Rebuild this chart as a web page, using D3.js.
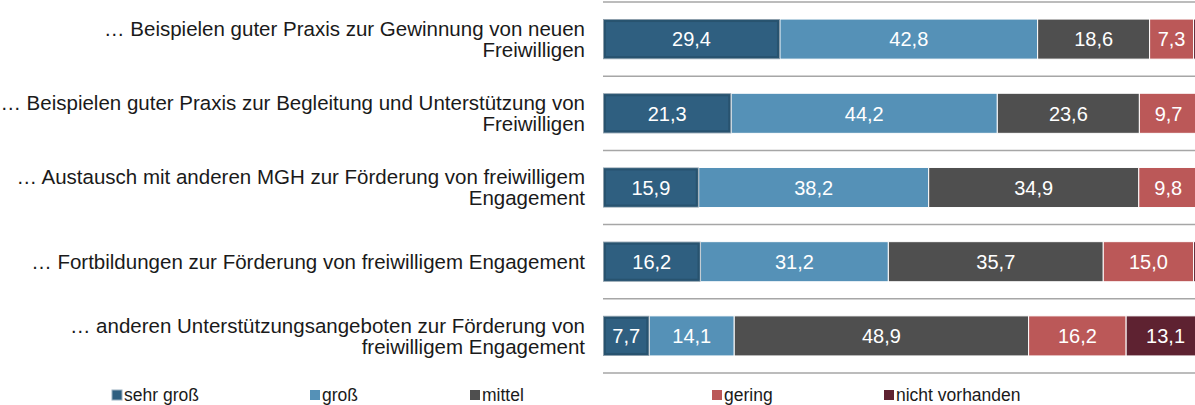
<!DOCTYPE html>
<html>
<head>
<meta charset="utf-8">
<script src="https://cdn.jsdelivr.net/npm/d3@7"></script>
<style>
  body { margin: 0; background: #fff; }
  svg { display: block; font-family: "Liberation Sans", Arial, sans-serif; }
</style>
</head>
<body>
<div id="chart"></div>
<script>
// categories (each label split into lines)
var categories = [
  ["… Beispielen guter Praxis zur Gewinnung von neuen", "Freiwilligen"],
  ["… Beispielen guter Praxis zur Begleitung und Unterstützung von", "Freiwilligen"],
  ["… Austausch mit anderen MGH zur Förderung von freiwilligem", "Engagement"],
  ["… Fortbildungen zur Förderung von freiwilligem Engagement"],
  ["… anderen Unterstützungsangeboten zur Förderung von", "freiwilligem Engagement"]
];
var seriesNames = ["sehr groß", "groß", "mittel", "gering", "nicht vorhanden"];
var sehrGross = [29.4, 21.3, 15.9, 16.2, 7.7];
var gross = [42.8, 44.2, 38.2, 31.2, 14.1];
var mittel = [18.6, 23.6, 34.9, 35.7, 48.9];
var gering = [7.3, 9.7, 9.8, 15.0, 16.2];
var nichtVorhanden = [1.9, 1.2, 1.2, 1.9, 13.1];

var colors = ["#2f5f80", "#5591b7", "#4f4f4f", "#bb5858", "#5e2231"];

var width = 1195, height = 405;
var svg = d3.select("#chart").append("svg")
    .attr("width", width)
    .attr("height", height);

var x = d3.scaleLinear().domain([0, 100]).range([603, 1205]);
var y = d3.scaleBand()
    .domain(d3.range(categories.length))
    .range([2, 373])
    .paddingInner(0.46)
    .paddingOuter(0.23);

var step = y.step();

// table for the stack
var table = categories.map(function(c, i) {
  return {
    i: i,
    "sehr groß": sehrGross[i],
    "groß": gross[i],
    "mittel": mittel[i],
    "gering": gering[i],
    "nicht vorhanden": nichtVorhanden[i]
  };
});
var stacked = d3.stack().keys(seriesNames)(table);

// gridlines between rows
var gridPos = d3.range(categories.length + 1).map(function(k) { return 2 + k * step; });
svg.append("g").selectAll("line")
  .data(gridPos)
  .enter().append("line")
    .attr("x1", 603).attr("x2", width)
    .attr("y1", function(d) { return d; })
    .attr("y2", function(d) { return d; })
    .attr("stroke", "#a6a6a6")
    .attr("stroke-width", 1.5);

var layers = svg.append("g").selectAll("g")
  .data(stacked)
  .enter().append("g")
    .attr("fill", function(d, i) { return colors[i]; });

layers.selectAll("rect")
  .data(function(d) { return d; })
  .enter().append("rect")
    .attr("x", function(d) { return x(d[0]); })
    .attr("y", function(d) { return y(d.data.i); })
    .attr("width", function(d) { return x(d[1]) - x(d[0]); })
    .attr("height", y.bandwidth())
    .attr("stroke", "#ffffff")
    .attr("stroke-width", 1);

// bevel look on the first series: light rim, darker inner edge
svg.append("g").selectAll("rect")
  .data(stacked[0])
  .enter().append("rect")
    .attr("x", function(d) { return x(d[0]) + 0.5; })
    .attr("y", function(d) { return y(d.data.i) + 0.5; })
    .attr("width", function(d) { return x(d[1]) - x(d[0]) - 1; })
    .attr("height", y.bandwidth() - 1)
    .attr("fill", "none")
    .attr("stroke", "#8c9eab")
    .attr("stroke-width", 1);
svg.append("g").selectAll("rect")
  .data(stacked[0])
  .enter().append("rect")
    .attr("x", function(d) { return x(d[0]) + 2; })
    .attr("y", function(d) { return y(d.data.i) + 2; })
    .attr("width", function(d) { return x(d[1]) - x(d[0]) - 4; })
    .attr("height", y.bandwidth() - 4)
    .attr("fill", "none")
    .attr("stroke", "#28536f")
    .attr("stroke-width", 2);

// value labels (skip the thin slivers)
layers.selectAll("text")
  .data(function(d) { return d; })
  .enter().append("text")
    .filter(function(d) { return d[1] - d[0] >= 5; })
    .attr("x", function(d) { return (x(d[0]) + x(d[1])) / 2; })
    .attr("y", function(d) { return y(d.data.i) + y.bandwidth() / 2; })
    .attr("dy", "0.36em")
    .attr("text-anchor", "middle")
    .attr("fill", "#ffffff")
    .style("font-size", "20px")
    .text(function(d) { return d3.format(".1f")(d[1] - d[0]).replace(".", ","); });

// category labels
var labels = svg.append("g").selectAll("text")
  .data(categories)
  .enter().append("text")
    .attr("text-anchor", "end")
    .attr("fill", "#1a1a1a")
    .style("font-size", "20.5px")
    .attr("y", function(d, i) {
      var c = y(i) + y.bandwidth() / 2;
      return c - (d.length - 1) * 10.5;
    });

labels.selectAll("tspan")
  .data(function(d) { return d; })
  .enter().append("tspan")
    .attr("x", 585)
    .attr("dy", function(d, j) { return j === 0 ? "0.36em" : "21px"; })
    .text(function(d) { return d; });

// legend
var legendX = [112, 310, 470, 712, 884];
var legend = svg.append("g").selectAll("g")
  .data(seriesNames)
  .enter().append("g")
    .attr("transform", function(d, i) { return "translate(" + legendX[i] + ",395)"; });

legend.append("rect")
  .attr("x", 0).attr("y", -5)
  .attr("width", 10).attr("height", 10)
  .attr("fill", function(d, i) { return colors[i]; })
  .attr("stroke", function(d, i) { return i === 0 ? "#9ab0c0" : "none"; });

legend.append("text")
  .attr("x", 12)
  .attr("dy", "0.36em")
  .attr("fill", "#1a1a1a")
  .style("font-size", "17.5px")
  .text(function(d) { return d; });
</script>
</body>
</html>
